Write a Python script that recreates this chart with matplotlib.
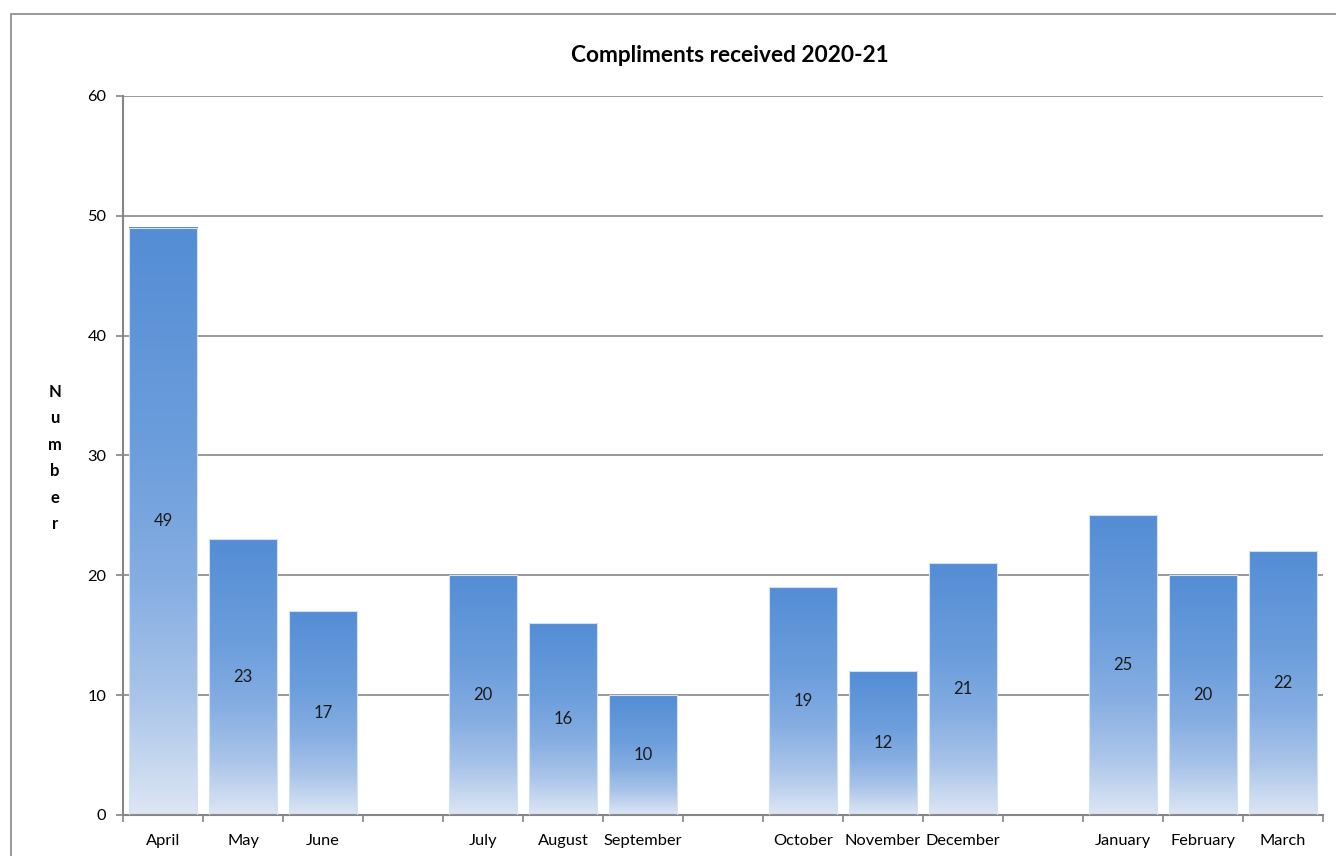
import numpy as np
import matplotlib.pyplot as plt
from matplotlib.colors import LinearSegmentedColormap
from matplotlib.patches import Rectangle

# Monthly compliments, blank slots separate the quarters
months = ['April', 'May', 'June', '',
          'July', 'August', 'September', '',
          'October', 'November', 'December', '',
          'January', 'February', 'March']
compliments = [49, 23, 17, None,
               20, 16, 10, None,
               19, 12, 21, None,
               25, 20, 22]
yticks = [0, 10, 20, 30, 40, 50, 60]

plt.rcParams['font.family'] = ['Lato', 'DejaVu Sans']

fig = plt.figure(figsize=(13.36, 8.56), dpi=100)
ax = fig.add_axes([0.0921, 0.0479, 0.8982, 0.84])

# bar fill: pale at the base, stronger blue at the top
grad_cmap = LinearSegmentedColormap.from_list(
    'bar_grad',
    [(0.0, '#dde6f4'), (0.2, '#a9c4e9'), (0.4, '#85ade2'),
     (0.62, '#6c9edc'), (1.0, '#548dd5')])
grad = np.linspace(0, 1, 256).reshape(-1, 1)

pos = [i for i, v in enumerate(compliments) if v is not None]
vals = [v for v in compliments if v is not None]

bars = ax.bar(pos, vals, width=0.86, color='none',
              edgecolor='#d3e1f4', linewidth=0.8, zorder=3)
for b, v in zip(bars, vals):
    x0 = b.get_x()
    ax.imshow(grad, extent=[x0, x0 + b.get_width(), 0, v], origin='lower',
              aspect='auto', cmap=grad_cmap, zorder=2)
    ax.text(b.get_x() + b.get_width() / 2, v / 2, str(v),
            ha='center', va='center', fontsize=12, color='#1a1a1a', zorder=4)

ax.set_xlim(-0.5, len(months) - 0.5)
ax.set_ylim(0, 60)

# tick marks between categories, labels under each slot
ax.set_xticks(np.arange(-0.5, len(months), 1.0))
ax.set_xticklabels([])
ax.set_xticks(range(len(months)), minor=True)
ax.set_xticklabels(months, minor=True, fontsize=11.8)
ax.tick_params(axis='x', which='major', length=5, width=1.2, color='#868686',
               direction='out')
ax.tick_params(axis='x', which='minor', length=0, pad=14)

ax.set_yticks(yticks)
ax.tick_params(axis='y', length=5, width=1.2, color='#868686', pad=7,
               labelsize=11.8)

ax.grid(axis='y', color='#868686', linewidth=1.2, zorder=0)
ax.set_axisbelow(True)
for side in ['top', 'right']:
    ax.spines[side].set_visible(False)
for side in ['left', 'bottom']:
    ax.spines[side].set_color('#868686')
    ax.spines[side].set_linewidth(1.5)

fig.text(0.546, 0.935, 'Compliments received 2020-21', ha='center',
         va='center', fontsize=16.3, fontweight='bold')
fig.text(0.041, 0.465, 'N\nu\nm\nb\ne\nr', ha='center', va='center',
         fontsize=12, fontweight='bold', linespacing=1.8)

# chart border
fig.patches.append(Rectangle((0.0082, -0.2), 1.5, 0.2 + 0.9836,
                             transform=fig.transFigure, fill=False,
                             edgecolor='#878787', linewidth=1.2))

fig.savefig('out.png', dpi=100)
